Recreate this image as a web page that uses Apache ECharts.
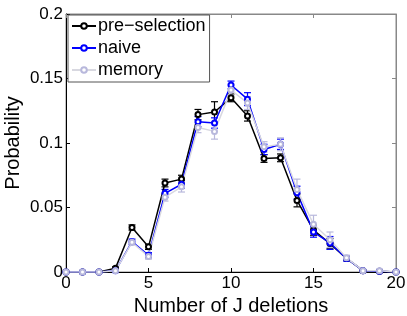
<!DOCTYPE html>
<html><head><meta charset="utf-8">
<script src="https://cdn.jsdelivr.net/npm/echarts@6/dist/echarts.min.js"></script>
<style>html,body{margin:0;padding:0;background:#fff}#c{width:407px;height:316px}</style>
</head><body><div id="c"></div>
<script>
const categories = [0,1,2,3,4,5,6,7,8,9,10,11,12,13,14,15,16,17,18,19,20];
const preSelection = [0,0,0,0.003,0.0345,0.0195,0.069,0.072,0.122,0.124,0.135,0.121,0.088,0.0885,0.0555,0.0325,0.022,0.0105,0.001,0.0005,0];
const naive = [0,0,0,0.001,0.0235,0.013,0.061,0.068,0.1165,0.1155,0.145,0.134,0.095,0.099,0.0615,0.031,0.0225,0.0105,0.001,0.0005,0];
const memory = [0,0,0,0.001,0.023,0.012,0.058,0.066,0.112,0.109,0.141,0.131,0.097,0.099,0.064,0.037,0.025,0.011,0.001,0.001,0];
const preErr = [0,0,0,0.001,0.002,0.002,0.003,0.003,0.004,0.008,0.003,0.004,0.003,0.003,0.005,0.004,0.004,0.001,0,0,0];
const naiveErr = [0,0,0,0.0005,0.002,0.002,0.003,0.003,0.004,0.004,0.003,0.005,0.004,0.004,0.005,0.004,0.005,0.002,0,0,0];
const memoryErr = [0,0,0,0.0005,0.002,0.002,0.003,0.004,0.004,0.006,0.004,0.005,0.004,0.005,0.008,0.007,0.006,0.002,0.001,0.001,0];
const xTicks = [0,5,10,15,20];
const yTicks = [0,0.05,0.1,0.15,0.2];
const names = ['pre\u2212selection','naive','memory'];
const colors = ['#000000','#0000ff','#d8d8e0'];
const markerColors = ['#000000','#0000ff','#b8b8dc'];
const values = [preSelection, naive, memory];
const errs = [preErr, naiveErr, memoryErr];

const chart = echarts.init(document.getElementById('c'));
const font = 'Liberation Sans, Arial, sans-serif';

function errSeries(i){
  return {
    type:'custom', name:names[i], silent:true, z:2,
    data: categories.map((c,k)=>[c, values[i][k]-errs[i][k], values[i][k]+errs[i][k]]),
    renderItem:function(params, api){
      const lo = api.coord([api.value(0), api.value(1)]);
      const hi = api.coord([api.value(0), api.value(2)]);
      const w = 3.5;
      const st = {stroke: markerColors[i], lineWidth: 1.2};
      return {type:'group', children:[
        {type:'line', shape:{x1:lo[0],y1:lo[1],x2:hi[0],y2:hi[1]}, style:st},
        {type:'line', shape:{x1:lo[0]-w,y1:lo[1],x2:lo[0]+w,y2:lo[1]}, style:st},
        {type:'line', shape:{x1:hi[0]-w,y1:hi[1],x2:hi[0]+w,y2:hi[1]}, style:st}
      ]};
    }
  };
}
function lineSeries(i){
  return {
    type:'line', name:names[i], z:3,
    data: categories.map((c,k)=>[c, values[i][k]]),
    symbol:'emptyCircle', symbolSize:5,
    lineStyle:{color:colors[i], width:1.5},
    itemStyle:{color:markerColors[i], borderWidth:1},
    emphasis:{disabled:true}
  };
}
const series = [];
for (let i=0;i<3;i++){ series.push(lineSeries(i)); series.push(errSeries(i)); }
series.push({type:'line', xAxisIndex:1, yAxisIndex:1, data:[], silent:true, symbol:'none'});

chart.setOption({
  animation:false,
  grid:{left:66, right:11, top:14, bottom:44, outerBoundsMode:'none', containLabel:false,
        show:true, borderColor:'#888', borderWidth:1, backgroundColor:'transparent'},
  legend:{
    data: names,
    orient:'vertical', left:68, top:15,
    itemWidth:24, itemHeight:7, itemGap:4,
    padding:[2,4,3,3],
    borderColor:'#555', borderWidth:1, backgroundColor:'#fff',
    textStyle:{fontFamily:font, fontSize:18, color:'#000', padding:[0,0,0,-3]}
  },
  xAxis:[{
    type:'value', min:0, max:20, interval:5,
    name:'Number of J deletions', nameLocation:'middle', nameGap:21,
    nameTextStyle:{fontFamily:font, fontSize:20, color:'#000'},
    axisLine:{show:true, onZero:false, lineStyle:{color:'#000'}},
    axisTick:{show:true, inside:true, length:4, lineStyle:{color:'#000'}},
    axisLabel:{fontFamily:font, fontSize:17, color:'#000', margin:3,
      formatter:v=>xTicks.includes(v)?String(v):''},
    splitLine:{show:false}
  },{
    type:'value', position:'top', min:0, max:20, interval:5,
    axisLine:{show:true, onZero:false, lineStyle:{color:'#888'}},
    axisTick:{show:true, inside:true, length:4, lineStyle:{color:'#888'}},
    axisLabel:{show:false}, splitLine:{show:false}
  }],
  yAxis:[{
    type:'value', min:0, max:0.2, interval:0.05,
    name:'Probability', nameLocation:'middle', nameGap:43, nameMoveOverlap:false,
    nameTextStyle:{fontFamily:font, fontSize:20, color:'#000'},
    axisLine:{show:true, onZero:false, lineStyle:{color:'#000'}},
    axisTick:{show:true, inside:true, length:4, lineStyle:{color:'#000'}},
    axisLabel:{fontFamily:font, fontSize:17, color:'#000', margin:3,
      formatter:v=>{const t=yTicks.find(y=>Math.abs(y-v)<1e-9); return t===undefined?'':String(Number(t.toFixed(2)));}},
    splitLine:{show:false}
  },{
    type:'value', position:'right', min:0, max:0.2, interval:0.05,
    axisLine:{show:true, onZero:false, lineStyle:{color:'#888'}},
    axisTick:{show:true, inside:true, length:4, lineStyle:{color:'#888'}},
    axisLabel:{show:false}, splitLine:{show:false}
  }],
  series: series
});
</script></body></html>
